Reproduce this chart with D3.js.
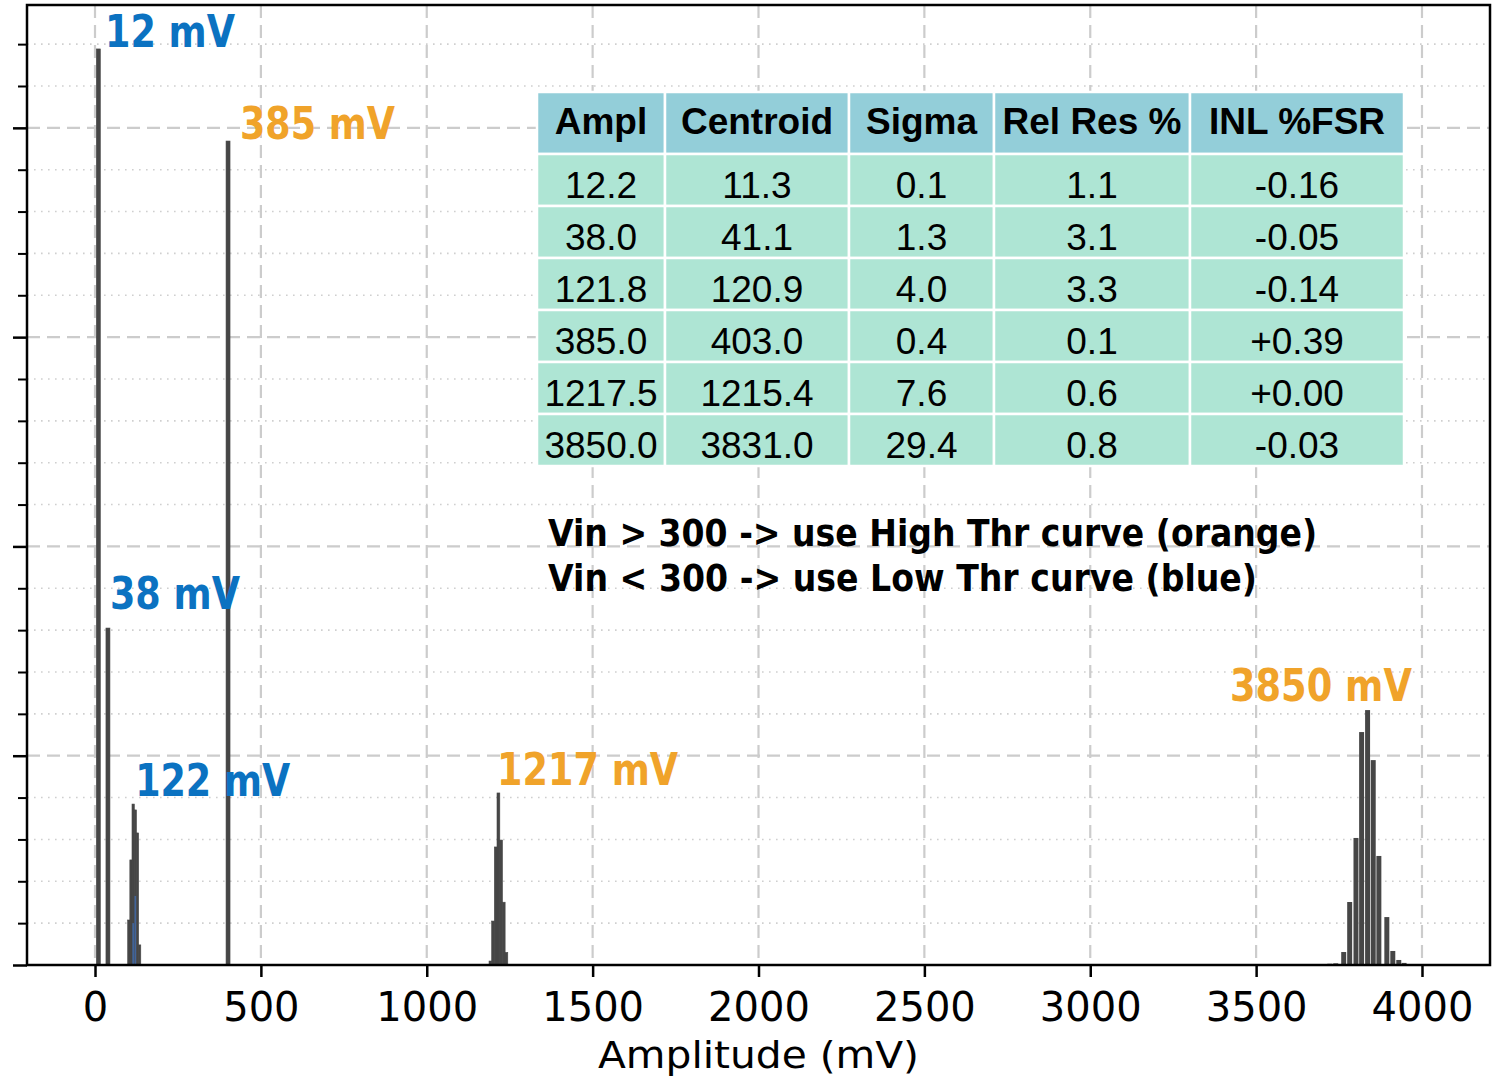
<!DOCTYPE html>
<html>
<head>
<meta charset="utf-8">
<script src="https://cdn.jsdelivr.net/npm/d3@7"></script>
<style>
  body { margin: 0; background: white; }
</style>
</head>
<body>
<div id="chart"></div>
<script>
// histogram of measured amplitudes, one small array pair per peak

let width = 1501;
let height = 1078;

// bin centres (mV) and counts
let p12x = [10], p12y = [4377];
let p38x = [39], p38y = [1610];
let p122x = [102, 108.5, 115, 121.5, 128, 134.5];
let p122y = [215, 502, 769, 741, 631, 96];
let p122blueX = [115, 121.5];
let p122blueY = [200, 330];
let p385x = [401], p385y = [3937];
let p1217x = [1192, 1200, 1208, 1216, 1224, 1232, 1240];
let p1217y = [19, 210, 564, 822, 597, 300, 60];
let p3850x = [3705, 3722, 3740, 3764, 3782, 3801, 3818, 3836, 3853, 3870, 3894, 3912, 3930, 3946];
let p3850y = [4, 6, 8, 62, 301, 607, 1113, 1218, 979, 521, 229, 67, 24, 10];

let peakBinWidth = [12, 12, 7, 12, 8.5, 15];

// peak labels: text, colour group, anchor (mV, counts)
let labelText = ["12 mV", "38 mV", "122 mV", "385 mV", "1217 mV", "3850 mV"];
let labelGroup = ["low", "low", "low", "high", "high", "high"];
let labelX = [30, 45, 121, 437, 1212, 3421];
let labelY = [4386, 1701, 807, 3947, 860, 1261];

// table
let tableHeader = ["Ampl", "Centroid", "Sigma", "Rel Res %", "INL %FSR"];
let colAmpl = ["12.2", "38.0", "121.8", "385.0", "1217.5", "3850.0"];
let colCentroid = ["11.3", "41.1", "120.9", "403.0", "1215.4", "3831.0"];
let colSigma = ["0.1", "1.3", "4.0", "0.4", "7.6", "29.4"];
let colRelRes = ["1.1", "3.1", "3.3", "0.1", "0.6", "0.8"];
let colINL = ["-0.16", "-0.05", "-0.14", "+0.39", "+0.00", "-0.03"];

let notes = ["Vin > 300 -> use High Thr curve (orange)", "Vin < 300 -> use Low Thr curve (blue)"];

let xTicks = [0, 500, 1000, 1500, 2000, 2500, 3000, 3500, 4000];

// plot box
let boxLeft = 27, boxRight = 1490, boxTop = 5, boxBottom = 965;

let x = d3.scaleLinear().domain([-205, 4205]).range([boxLeft, boxRight]);
let y = d3.scaleLinear().domain([0, 4587]).range([boxBottom, boxTop]);

let svg = d3.select("#chart").append("svg")
    .attr("width", width)
    .attr("height", height)
    .style("background", "white");

// grid
let grid = svg.append("g");
let majorY = d3.range(1000, 4587, 1000);
let minorY = d3.range(200, 4587, 200).filter(v => v % 1000 !== 0);

grid.selectAll(".minor")
    .data(minorY)
    .join("line")
    .attr("x1", boxLeft).attr("x2", boxRight)
    .attr("y1", d => y(d)).attr("y2", d => y(d))
    .attr("stroke", "#cfcfcf")
    .attr("stroke-width", 1.6)
    .attr("stroke-dasharray", "1.6,5.4");

grid.selectAll(".majorY")
    .data(majorY)
    .join("line")
    .attr("x1", boxLeft).attr("x2", boxRight)
    .attr("y1", d => y(d)).attr("y2", d => y(d))
    .attr("stroke", "#cccccc")
    .attr("stroke-width", 2.2)
    .attr("stroke-dasharray", "13,7");

grid.selectAll(".majorX")
    .data(xTicks)
    .join("line")
    .attr("x1", d => x(d)).attr("x2", d => x(d))
    .attr("y1", boxTop).attr("y2", boxBottom)
    .attr("stroke", "#cccccc")
    .attr("stroke-width", 2.2)
    .attr("stroke-dasharray", "13,7");

// bars
let peaks = [
    [p12x, p12y], [p38x, p38y], [p122x, p122y],
    [p385x, p385y], [p1217x, p1217y], [p3850x, p3850y]
];
let bars = svg.append("g");
peaks.forEach(([xs, ys], i) => {
    let w = peakBinWidth[i];
    bars.append("g")
        .selectAll("rect")
        .data(xs.map((c, j) => ({ c: c, n: ys[j] })))
        .join("rect")
        .attr("x", d => x(d.c - w / 2))
        .attr("width", d => x(d.c + w / 2) - x(d.c - w / 2))
        .attr("y", d => y(d.n))
        .attr("height", d => y(0) - y(d.n))
        .attr("fill", "#464646")
        .attr("stroke", i === 5 ? "none" : "#464646")
        .attr("stroke-width", 0.6);
});

// faint low threshold histogram showing through at 122 mV
bars.append("g")
    .selectAll("rect")
    .data(p122blueX.map((c, j) => ({ c: c, n: p122blueY[j] })))
    .join("rect")
    .attr("x", d => x(d.c - 2.5))
    .attr("width", d => x(d.c + 2.5) - x(d.c - 2.5))
    .attr("y", d => y(d.n))
    .attr("height", d => y(0) - y(d.n))
    .attr("fill", "#3f74c8")
    .attr("opacity", 0.65);

// table
let colEdges = [537, 665, 849, 994, 1190, 1404];
let rowEdges = [92, 154, 206, 258, 310, 362, 414, 466];
let columns = [colAmpl, colCentroid, colSigma, colRelRes, colINL];
let table = svg.append("g");

tableHeader.forEach((h, c) => {
    let x0 = colEdges[c], x1 = colEdges[c + 1];
    table.append("rect")
        .attr("x", x0).attr("y", rowEdges[0])
        .attr("width", x1 - x0).attr("height", rowEdges[1] - rowEdges[0])
        .attr("fill", "#93ced9")
        .attr("stroke", "white").attr("stroke-width", 2.5);
    table.append("text")
        .attr("x", (x0 + x1) / 2)
        .attr("y", (rowEdges[0] + rowEdges[1]) / 2 + 11)
        .attr("text-anchor", "middle")
        .attr("font-family", "Liberation Sans, Arial, sans-serif")
        .attr("font-weight", "bold")
        .attr("font-size", 37)
        .text(h);
    columns[c].forEach((v, r) => {
        let y0 = rowEdges[r + 1], y1 = rowEdges[r + 2];
        table.append("rect")
            .attr("x", x0).attr("y", y0)
            .attr("width", x1 - x0).attr("height", y1 - y0)
            .attr("fill", "#aee5d4")
            .attr("stroke", "white").attr("stroke-width", 2.5);
        table.append("text")
            .attr("x", (x0 + x1) / 2)
            .attr("y", (y0 + y1) / 2 + 18)
            .attr("text-anchor", "middle")
            .attr("font-family", "Liberation Sans, Arial, sans-serif")
            .attr("font-size", 37)
            .text(v);
    });
});

// notes
let noteWidth = [769, 709];
svg.selectAll(".note")
    .data(notes)
    .join("text")
    .attr("x", 548)
    .attr("y", (d, i) => 546 + i * 45)
    .attr("font-family", "Comic Sans MS, DejaVu Sans, sans-serif")
    .attr("font-weight", "bold")
    .attr("font-size", 38)
    .attr("textLength", (d, i) => noteWidth[i])
    .attr("lengthAdjust", "spacingAndGlyphs")
    .attr("fill", "black")
    .text(d => d);

// peak labels
let labelWidth = [130, 130, 155, 155, 181, 182];
svg.selectAll(".peaklabel")
    .data(labelText)
    .join("text")
    .attr("x", (d, i) => x(labelX[i]))
    .attr("y", (d, i) => y(labelY[i]))
    .attr("font-family", "Comic Sans MS, DejaVu Sans, sans-serif")
    .attr("font-weight", "bold")
    .attr("font-size", 44)
    .attr("textLength", (d, i) => labelWidth[i])
    .attr("lengthAdjust", "spacingAndGlyphs")
    .attr("fill", (d, i) => labelGroup[i] === "low" ? "#0b72c1" : "#f0a32a")
    .text(d => d);

// axes
let xAxis = svg.append("g")
    .attr("transform", `translate(0,${boxBottom})`)
    .call(d3.axisBottom(x).tickValues(xTicks).tickSize(12).tickPadding(16).tickFormat(d3.format("d")));
xAxis.select(".domain").remove();
xAxis.selectAll("line").attr("stroke", "black").attr("stroke-width", 2.5);
xAxis.selectAll("text")
    .attr("font-family", "DejaVu Sans, sans-serif")
    .attr("font-size", 40)
    .attr("fill", "black");

let yAxis = svg.append("g")
    .attr("transform", `translate(${boxLeft},0)`)
    .call(d3.axisLeft(y).tickValues(d3.range(0, 4587, 1000)).tickSize(14).tickFormat(""));
yAxis.select(".domain").remove();
yAxis.selectAll("line").attr("stroke", "black").attr("stroke-width", 2.5);

let yMinor = svg.append("g")
    .attr("transform", `translate(${boxLeft},0)`)
    .call(d3.axisLeft(y).tickValues(minorY).tickSize(9).tickFormat(""));
yMinor.select(".domain").remove();
yMinor.selectAll("line").attr("stroke", "black").attr("stroke-width", 2);

// frame
svg.append("rect")
    .attr("x", boxLeft).attr("y", boxTop)
    .attr("width", boxRight - boxLeft).attr("height", boxBottom - boxTop)
    .attr("fill", "none")
    .attr("stroke", "black")
    .attr("stroke-width", 2.5);

svg.append("text")
    .attr("x", x(2000))
    .attr("y", 1068)
    .attr("text-anchor", "middle")
    .attr("font-family", "DejaVu Sans, sans-serif")
    .attr("font-size", 38)
    .attr("textLength", 321)
    .attr("lengthAdjust", "spacingAndGlyphs")
    .text("Amplitude (mV)");
</script>
</body>
</html>
